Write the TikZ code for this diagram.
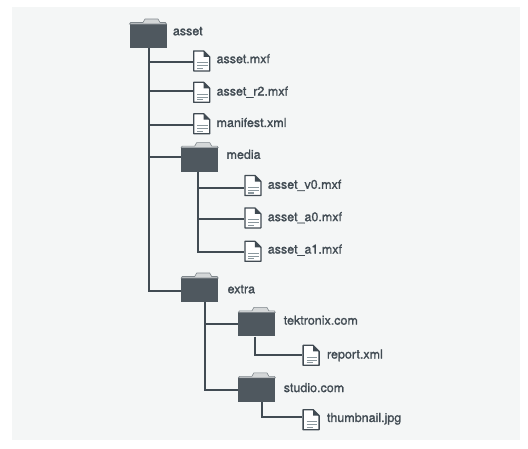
\documentclass[tikz,border=0pt]{standalone}
\usepackage{fontspec}
\setmainfont[FakeBold=1.2]{TeX Gyre Heros}
\usepackage{xcolor}
\usetikzlibrary{positioning}
\definecolor{panelbg}{HTML}{F4F6F6}
\definecolor{inkdark}{HTML}{414B53}
\definecolor{folderdark}{HTML}{4F585F}
\definecolor{lidgray}{HTML}{D4D7D8}
\definecolor{lidedge}{HTML}{7F878C}
\definecolor{rulegray}{HTML}{8A979D}

\begin{document}
\begin{tikzpicture}[
  x=1pt, y=-1pt,
  node distance=10pt and 8pt,
  folder/.style={fill=folderdark,inner sep=0pt,minimum width=37pt,minimum height=24pt},
  doc/.style={inner sep=0pt,minimum width=17pt,minimum height=21pt},
  tag/.style={inner sep=0pt,text=inkdark,font=\fontsize{12.5}{14}\selectfont,text height=9pt,text depth=2.5pt},
  link/.style={draw=inkdark,line width=1.9pt},
  folderlid/.pic={
    \draw[fill=lidgray,draw=lidedge,line width=.6pt] (-18.5,-12) -- (-17.5,-13.5) -- (-5,-13.5) -- (-3,-17) -- (10,-17) -- (12,-13.5) -- (17.5,-13.5) -- (18.5,-12) -- cycle;
  },
  docicon/.pic={
    \draw[fill=white,draw=inkdark,line width=1.3pt,line join=round] (-8,-10) -- (2,-10) -- (8,-4) -- (8,10) -- (-8,10) -- cycle;
    \fill[inkdark] (2,-10) -- (8,-4) -- (2,-4) -- cycle;
    \draw[rulegray,line width=1.1pt] (-4.5,2) -- (6,2) (-4.5,5) -- (6,5) (-4.5,7.5) -- (1.5,7.5);
  }
]
\fill[panelbg] (12,7) rectangle (520,440);

\node[folder] (asset) at (148,36) {};
\node[doc, below right=2pt and 45pt of asset.south] (mxf) {};
\node[doc, below=of mxf] (r2) {};
\node[doc, below=of r2] (manifest) {};
\node[folder, below=13pt of manifest, xshift=-2pt] (media) {};
\node[doc, below right=3pt and 44.5pt of media.south] (v0) {};
\node[doc, below=11pt of v0] (a0) {};
\node[doc, below=12pt of a0] (a1) {};
\node[folder, below=106pt of media] (extra) {};
\node[folder, below right=10pt and 38.5pt of extra.south] (tek) {};
\node[doc, below right=8pt and 45.5pt of tek.south] (report) {};
\node[folder, below=41pt of tek] (studio) {};
\node[doc, below right=7pt and 45.5pt of studio.south] (thumb) {};

\draw[link] ([xshift=1pt]asset.south) |- ([yshift=-1.5pt]mxf.west);
\draw[link] ([xshift=1pt]asset.south) |- ([yshift=1.5pt]r2.west);
\draw[link] ([xshift=1pt]asset.south) |- ([yshift=-1pt]manifest.west);
\draw[link] ([xshift=1pt]asset.south) |- ([yshift=3pt]media.west);
\draw[link] ([xshift=1pt]asset.south) |- ([yshift=-1pt]extra.west);
\draw[link] ([xshift=-2pt]media.south) |- ([yshift=-2.5pt]v0.west);
\draw[link] ([xshift=-2pt]media.south) |- ([yshift=-1.5pt]a0.west);
\draw[link] ([xshift=-2pt]media.south) |- ([yshift=-1pt]a1.west);
\draw[link] ([xshift=5.5pt]extra.south) |- (tek);
\draw[link] ([xshift=5.5pt]extra.south) |- ([yshift=0pt]studio.west);
\draw[link] ([xshift=-1.5pt]tek.south) |- (report);
\draw[link] ([xshift=5.5pt]studio.south) |- ([yshift=3pt]thumb.west);

\foreach \f in {asset,media,extra,tek,studio} \pic at (\f) {folderlid};
\foreach \d in {mxf,r2,manifest,v0,a0,a1,report,thumb} \pic at (\d) {docicon};

\node[tag, right=6pt of asset, yshift=4pt] (lasset) {asset};
\node[tag, right=6pt of mxf, yshift=1pt] (lmxf) {asset.mxf};
\node[tag, right=6pt of r2] (lr2) {asset\_r2.mxf};
\node[tag, right=6pt of manifest] (lmanifest) {manifest.xml};
\node[tag, right=8pt of media, yshift=4pt] (lmedia) {media};
\node[tag, right=6pt of v0] (lv0) {asset\_v0.mxf};
\node[tag, right=6pt of a0] (la0) {asset\_a0.mxf};
\node[tag, right=6pt of a1, yshift=1pt] (la1) {asset\_a1.mxf};
\node[tag, right=9pt of extra] (lextra) {extra};
\node[tag, right=8pt of tek, yshift=3pt] (ltek) {tektronix.com};
\node[tag, right=7pt of report] (lreport) {report.xml};
\node[tag, right=8pt of studio, yshift=1pt] (lstudio) {studio.com};
\node[tag, right=7pt of thumb, yshift=1pt] (lthumb) {thumbnail.jpg};
\useasboundingbox (0,0) rectangle (528,448);
\end{tikzpicture}
\end{document}
